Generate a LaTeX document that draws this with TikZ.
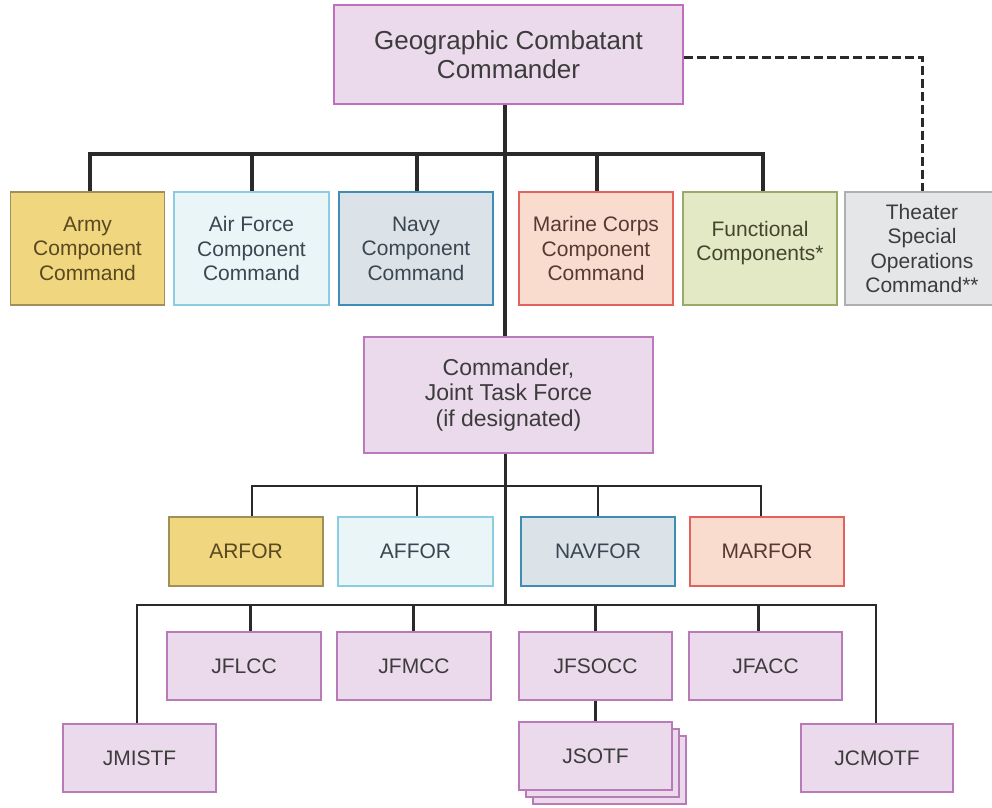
\documentclass[tikz,border=0pt]{standalone}
\usepackage{fontspec}
\setmainfont{Liberation Sans}
\definecolor{linec}{HTML}{2A2A2A}
\definecolor{purfill}{HTML}{EBDAEB}
\definecolor{purdraw}{HTML}{B97AB9}
\definecolor{armyfill}{HTML}{EFD67F}
\definecolor{armydraw}{HTML}{A08F58}
\definecolor{armytext}{HTML}{5A4820}
\definecolor{affill}{HTML}{EAF5F8}
\definecolor{afdraw}{HTML}{8ACDE0}
\definecolor{aftext}{HTML}{3A4650}
\definecolor{navyfill}{HTML}{DBE2E8}
\definecolor{navydraw}{HTML}{3E8DB4}
\definecolor{navytext}{HTML}{3A4650}
\definecolor{marfill}{HTML}{FADCCF}
\definecolor{mardraw}{HTML}{E2625E}
\definecolor{martext}{HTML}{553A32}
\definecolor{funfill}{HTML}{E3E8C5}
\definecolor{fundraw}{HTML}{9AAA68}
\definecolor{funtext}{HTML}{45452E}
\definecolor{thfill}{HTML}{E5E6E8}
\definecolor{thdraw}{HTML}{AFAFB2}
\definecolor{txt}{HTML}{3C3C3C}
\tikzset{
  box/.style={rectangle, draw, line width=1.8pt, align=center, inner sep=2pt, text=txt,
    font=\fontsize{21}{24.5}\selectfont},
  purbox/.style={box, fill=purfill, draw=purdraw},
  comp/.style={box, minimum width=154pt, minimum height=113pt},
  small/.style={purbox, minimum width=154pt, minimum height=68pt},
  force/.style={box, minimum width=154pt, minimum height=69pt},
  thick bus/.style={draw=linec, line width=4pt},
  mid bus/.style={draw=linec, line width=2.2pt},
  drop/.style={draw=linec, line width=3pt},
}
\begin{document}
\begin{tikzpicture}[x=1pt, y=-1pt]
\useasboundingbox[fill=white] (0,0) rectangle (992,807);

% top
\node[purbox, draw=purdraw!90!magenta, minimum width=349pt, minimum height=99pt,
  font=\fontsize{26}{29}\selectfont] (top) at (508.5,54.5) {Geographic Combatant\\Commander};

% component row
\node[comp, fill=armyfill, draw=armydraw, text=armytext] (army) at (87.5,248.5) {Army\\Component\\Command};
\node[comp, minimum width=155pt, fill=affill, draw=afdraw, text=aftext] (af) at (251.5,248.5) {Air Force\\Component\\Command};
\node[comp, fill=navyfill, draw=navydraw, text=navytext] (navy) at (416,248.5) {Navy\\Component\\Command};
\node[comp, fill=marfill, draw=mardraw, text=martext] (mar) at (596,248.5) {Marine Corps\\Component\\Command};
\node[comp, fill=funfill, draw=fundraw, text=funtext] (fun) at (760,248.5) {Functional\\Components*\\[-9.5pt]};
\node[comp, fill=thfill, draw=thdraw] (th) at (922,248.5) {Theater\\Special\\Operations\\Command**};

% JTF
\node[purbox, minimum width=289pt, minimum height=116pt,
  font=\fontsize{23}{25.5}\selectfont] (jtf) at (508.5,395) {Commander,\\Joint Task Force\\(if designated)};

% service forces
\node[force, fill=armyfill, draw=armydraw, text=armytext] (arfor) at (246,551.5) {ARFOR};
\node[force, minimum width=155pt, fill=affill, draw=afdraw, text=aftext] (affor) at (415.5,551.5) {AFFOR};
\node[force, fill=navyfill, draw=navydraw, text=navytext] (navfor) at (598,551.5) {NAVFOR};
\node[force, fill=marfill, draw=mardraw, text=martext] (marfor) at (767,551.5) {MARFOR};

% functional components
\node[small] (jflcc) at (244,666) {JFLCC};
\node[small] (jfmcc) at (414,666) {JFMCC};
\node[small, minimum width=153pt] (jfsocc) at (595.5,666) {JFSOCC};
\node[small, minimum width=153pt] (jfacc) at (765.5,666) {JFACC};
\node[small, minimum width=153pt] (jmistf) at (139.5,758) {JMISTF};
\node[small, minimum width=152pt] (jcmotf) at (877,758) {JCMOTF};
\node[small, minimum width=153pt] (jsotfc) at (609.5,770) {};
\node[small, minimum width=153pt] (jsotfb) at (602.5,763) {};
\node[small, minimum width=153pt] (jsotf) at (595.5,756) {JSOTF};

% bus coordinates
\coordinate (bus1) at (505,154);
\coordinate (bus2) at (505,486);
\coordinate (bus3) at (505,605);
\coordinate (dash) at (922,57);

% top level connectors
\draw[thick bus] ([xshift=-3.5pt]top.south) -- ([xshift=-3.5pt]jtf.north);
\draw[thick bus, line cap=rect] ([xshift=2.5pt]army.north |- bus1) -- ([xshift=3pt]fun.north |- bus1);
\draw[thick bus] ([xshift=2.5pt]army.north |- bus1) -- ([xshift=2.5pt]army.north);
\draw[thick bus] (af.north |- bus1) -- (af.north);
\draw[thick bus] ([xshift=1pt]navy.north |- bus1) -- ([xshift=1pt]navy.north);
\draw[thick bus] ([xshift=1pt]mar.north |- bus1) -- ([xshift=1pt]mar.north);
\draw[thick bus] ([xshift=3pt]fun.north |- bus1) -- ([xshift=3pt]fun.north);
\draw[draw=linec, line width=3pt, dash pattern=on 9pt off 4pt] (top.east |- dash) -- (dash) -- (th.north);

% JTF connectors
\draw[drop] ([xshift=-3.5pt]jtf.south) -- (bus3);
\draw[mid bus, line cap=rect] ([xshift=6pt]arfor.north |- bus2) -- ([xshift=-6pt]marfor.north |- bus2);
\draw[mid bus] ([xshift=6pt]arfor.north |- bus2) -- ([xshift=6pt]arfor.north);
\draw[mid bus] ([xshift=1.5pt]affor.north |- bus2) -- ([xshift=1.5pt]affor.north);
\draw[mid bus] (navfor.north |- bus2) -- (navfor.north);
\draw[mid bus] ([xshift=-6pt]marfor.north |- bus2) -- ([xshift=-6pt]marfor.north);

% functional bus
\draw[mid bus] ([xshift=-2.5pt]jmistf.north) -- ([xshift=-2.5pt]jmistf.north |- bus3) -- ([xshift=-1pt]jcmotf.north |- bus3) -- ([xshift=-1pt]jcmotf.north);
\draw[drop] ([xshift=6pt]jflcc.north |- bus3) -- ([xshift=6pt]jflcc.north);
\draw[drop] ([xshift=-1pt]jfmcc.north |- bus3) -- ([xshift=-1pt]jfmcc.north);
\draw[drop] (jfsocc.north |- bus3) -- (jfsocc.north);
\draw[drop] ([xshift=-7.5pt]jfacc.north |- bus3) -- ([xshift=-7.5pt]jfacc.north);
\draw[drop] (jfsocc.south) -- (jsotf.north);
\end{tikzpicture}
\end{document}
